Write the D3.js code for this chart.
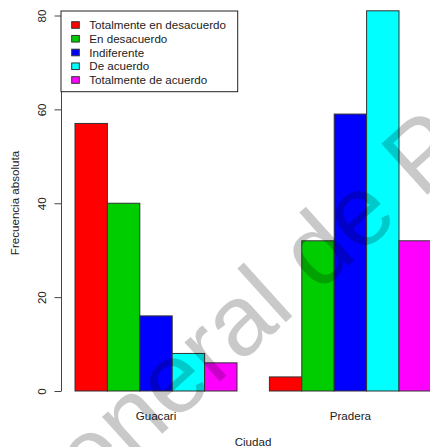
<!DOCTYPE html>
<html>
<head>
<meta charset="utf-8">
<script src="https://cdn.jsdelivr.net/npm/d3@7"></script>
<style>
  html, body { margin: 0; padding: 0; background: #ffffff; }
  svg { display: block; font-family: "Liberation Sans", Arial, sans-serif; }
</style>
</head>
<body>
<svg id="chart" width="430" height="447"></svg>
<script>
// data
const ciudades   = ["Guacari", "Pradera"];
const respuestas = ["Totalmente en desacuerdo", "En desacuerdo", "Indiferente", "De acuerdo", "Totalmente de acuerdo"];
const colores    = ["#ff0000", "#00cd00", "#0000ff", "#00ffff", "#ff00ff"];
const guacari    = [57, 40, 16, 8, 6];
const pradera    = [3, 32, 59, 81, 32];
const yTicks     = [0, 20, 40, 60, 80];

const frecuencias = [guacari, pradera];

const drawChart = () => {
  let svg = d3.select("#chart");

  // bars 1..12 in R units, one empty bar between the groups
  let x0 = d3.scaleBand()
    .domain(ciudades)
    .range([75, 431.4])
    .paddingInner(1 / 6)
    .paddingOuter(0);

  let x1 = d3.scaleBand()
    .domain(respuestas)
    .range([0, x0.bandwidth()])
    .padding(0);

  let y = d3.scaleLinear()
    .domain([0, 80])
    .range([391, 15.5]);

  // bars
  let rows = [];
  ciudades.forEach((c, i) => {
    respuestas.forEach((r, j) => {
      rows.push({ciudad: c, respuesta: r, valor: frecuencias[i][j], color: colores[j]});
    });
  });

  svg.append("g")
    .selectAll("rect")
    .data(rows)
    .enter().append("rect")
    .attr("x", d => x0(d.ciudad) + x1(d.respuesta))
    .attr("y", d => y(d.valor))
    .attr("width", x1.bandwidth())
    .attr("height", d => y(0) - y(d.valor))
    .attr("fill", d => d.color)
    .attr("stroke", "#333")
    .attr("stroke-width", 1);

  // y axis, R style with rotated labels
  let axis = d3.axisLeft(y)
    .tickValues(yTicks)
    .tickSize(6.5)
    .tickPadding(0)
    .tickSizeOuter(0);

  let gy = svg.append("g")
    .attr("transform", "translate(61,0)")
    .call(axis);

  gy.select(".domain").attr("stroke", "#444");
  gy.selectAll(".tick line").attr("stroke", "#444");
  gy.selectAll(".tick text")
    .attr("x", null)
    .attr("dy", null)
    .attr("fill", "#222")
    .style("font-size", "11.6px")
    .attr("text-anchor", "middle")
    .attr("transform", "translate(-15.5,0) rotate(-90)");

  // category labels under the groups
  svg.append("g")
    .selectAll("text")
    .data(ciudades)
    .enter().append("text")
    .attr("x", d => x0(d) + x0.bandwidth() / 2)
    .attr("y", 419.5)
    .attr("text-anchor", "middle")
    .attr("fill", "#222")
    .style("font-size", "11.6px")
    .text(d => d);

  svg.append("text")
    .attr("x", 253)
    .attr("y", 445.5)
    .attr("text-anchor", "middle")
    .attr("fill", "#222")
    .style("font-size", "11.6px")
    .text("Ciudad");

  svg.append("text")
    .attr("transform", "translate(19,203) rotate(-90)")
    .attr("text-anchor", "middle")
    .attr("fill", "#222")
    .style("font-size", "11.6px")
    .text("Frecuencia absoluta");

  // legend
  let legend = svg.append("g");

  legend.append("rect")
    .attr("x", 61)
    .attr("y", 11)
    .attr("width", 176.7)
    .attr("height", 80.7)
    .attr("fill", "#ffffff")
    .attr("stroke", "#222")
    .attr("stroke-width", 1);

  let item = legend.selectAll("g.item")
    .data(respuestas)
    .enter().append("g")
    .attr("class", "item")
    .attr("transform", (d, i) => "translate(0," + (25 + i * 13.75) + ")");

  item.append("rect")
    .attr("x", 71.7)
    .attr("y", -3.3)
    .attr("width", 7.6)
    .attr("height", 6.6)
    .attr("fill", (d, i) => colores[i])
    .attr("stroke", "#333")
    .attr("stroke-width", 1);

  item.append("text")
    .attr("x", 89.3)
    .attr("y", 4.2)
    .attr("fill", "#222")
    .style("font-size", "11.6px")
    .text(d => d);

  // watermark laid over the plot
  svg.append("text")
    .attr("transform", "translate(33,550) rotate(-42)")
    .attr("fill", "rgba(0,0,0,0.21)")
    .style("font-size", "100px")
    .text("General de Pr");
}

drawChart();
</script>
</body>
</html>
